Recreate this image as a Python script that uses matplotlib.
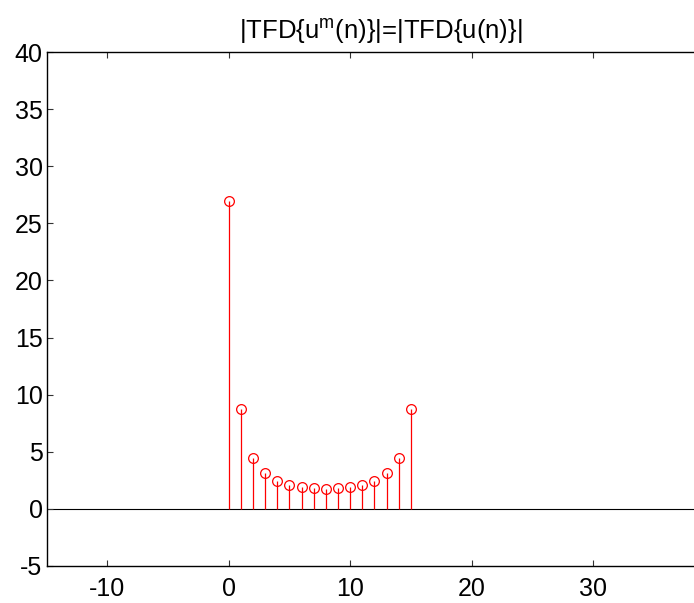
import matplotlib
matplotlib.use("Agg")
import matplotlib.pyplot as plt
import numpy as np

plt.rcParams['font.family'] = ['Liberation Sans', 'DejaVu Sans']
plt.rcParams['mathtext.fontset'] = 'custom'
plt.rcParams['mathtext.rm'] = 'Liberation Sans'
plt.rcParams['mathtext.it'] = 'Liberation Sans'
plt.rcParams['mathtext.default'] = 'regular'
plt.rcParams['axes.unicode_minus'] = False

# Data
n = [0, 1, 2, 3, 4, 5, 6, 7, 8, 9, 10, 11, 12, 13, 14, 15]
mag = [27.0, 8.72, 4.48, 3.14, 2.45, 2.08, 1.87, 1.77, 1.75, 1.77, 1.87, 2.08, 2.45, 3.14, 4.48, 8.72]
title = r"|TFD{u$^{m}$(n)}|=|TFD{u(n)}|"
xticks = [-10, 0, 10, 20, 30]
yticks = [-5, 0, 5, 10, 15, 20, 25, 30, 35, 40]

W, H = 694, 603
fig = plt.figure(figsize=(W / 100, H / 100), dpi=100)
left, right, top, bottom = 46.7, 714.3, 52.3, 565.7
ax = fig.add_axes([left / W, (H - bottom) / H, (right - left) / W, (bottom - top) / H])

ax.axhline(0, color='black', lw=0.8, zorder=1)
markerline, stemlines, baseline = ax.stem(n, mag, linefmt='r-', markerfmt='o', basefmt=' ')
plt.setp(stemlines, color='red', linewidth=0.9)
plt.setp(markerline, markerfacecolor='none', markeredgecolor='red', markersize=7, markeredgewidth=0.9)
baseline.set_visible(False)

ax.set_xlim(-15, 40)
ax.set_ylim(-5, 40)
ax.set_xticks(xticks)
ax.set_yticks(yticks)
ax.tick_params(axis='both', direction='in', length=4, width=0.8, labelsize=18,
               top=True, right=True, color='#333333')
ax.tick_params(axis='x', pad=8)
ax.tick_params(axis='y', pad=3)
for s in ax.spines.values():
    s.set_color('black')
    s.set_linewidth(1.0)

ax.set_title(title, fontsize=18.5, pad=10)

fig.savefig('out.png', dpi=100)
